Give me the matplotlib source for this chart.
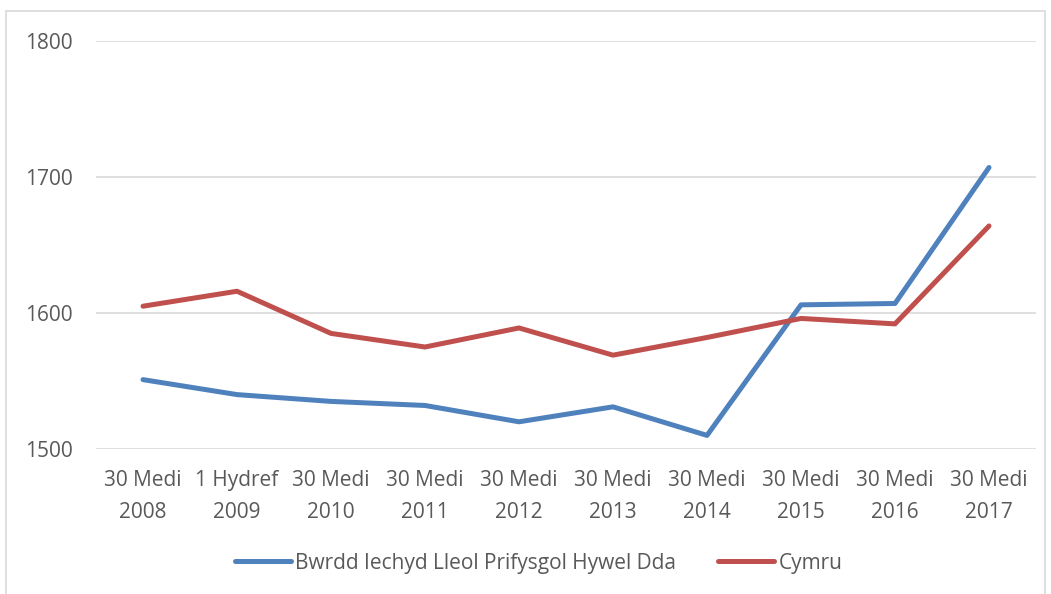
import matplotlib.pyplot as plt
from matplotlib.patches import Rectangle

categories = ["30 Medi\n2008", "1 Hydref\n2009", "30 Medi\n2010", "30 Medi\n2011",
              "30 Medi\n2012", "30 Medi\n2013", "30 Medi\n2014", "30 Medi\n2015",
              "30 Medi\n2016", "30 Medi\n2017"]
hywel_dda = [1551, 1540, 1535, 1532, 1520, 1531, 1510, 1606, 1607, 1707]
cymru = [1605, 1616, 1585, 1575, 1589, 1569, 1582, 1596, 1592, 1664]
yticks = [1500, 1600, 1700, 1800]

plt.rcParams['font.family'] = ['Open Sans', 'DejaVu Sans']

W, H = 1051, 594
fig = plt.figure(figsize=(W / 100, H / 100), dpi=100)
ax = fig.add_axes([96 / W, 1 - 449 / H, (1036 - 96) / W, (449 - 41) / H])

# outer chart border
fig.patches.append(Rectangle((6 / W, -0.05), (1045 - 6) / W, 1.05 - 11 / H,
                             transform=fig.transFigure, fill=False,
                             edgecolor='#D9D9D9', linewidth=1.2))

x = list(range(len(categories)))
ax.plot(x, hywel_dda, color='#4F81BD', lw=3.6, solid_capstyle='round',
        label='Bwrdd Iechyd Lleol Prifysgol Hywel Dda')
ax.plot(x, cymru, color='#C0504D', lw=3.6, solid_capstyle='round',
        label='Cymru')

ax.set_xlim(-0.5, len(categories) - 0.5)
ax.set_ylim(1500, 1800)
ax.set_yticks(yticks)
ax.set_xticks(x)
ax.set_xticklabels(categories, linespacing=1.7)
ax.grid(axis='y', color='#D9D9D9', lw=1.2)
ax.set_axisbelow(True)
for s in ax.spines.values():
    s.set_visible(False)
ax.tick_params(length=0, labelsize=15, colors='#595959')
ax.tick_params(axis='x', pad=15)
ax.tick_params(axis='y', pad=17)

fig.legend(loc='center', bbox_to_anchor=(0.5 + 13 / W, 1 - 563 / H), ncol=2,
           frameon=False, fontsize=15, labelcolor='#595959',
           handlelength=2.7, handletextpad=0.2, columnspacing=2.0)

fig.savefig('out.png', dpi=100)
